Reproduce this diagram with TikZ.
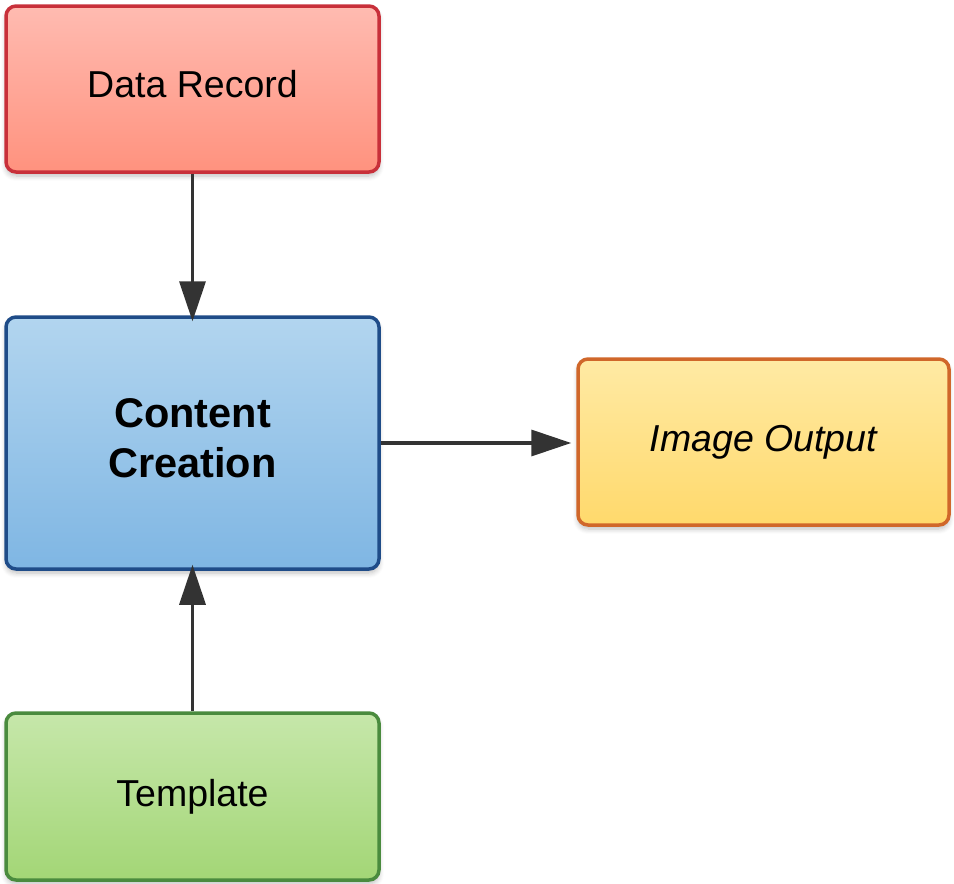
\documentclass[tikz,border=0pt]{standalone}
\usepackage{fontspec}
\setmainfont{Liberation Sans}
\usetikzlibrary{arrows.meta,shadows.blur}

\definecolor{redline}{HTML}{C8303A}
\definecolor{redtop}{HTML}{FFBBB1}
\definecolor{redbot}{HTML}{FF927E}
\definecolor{blueline}{HTML}{1F4C88}
\definecolor{bluetop}{HTML}{B2D5EF}
\definecolor{bluebot}{HTML}{7FB6E3}
\definecolor{orangeline}{HTML}{D0672A}
\definecolor{orangetop}{HTML}{FFEAA4}
\definecolor{orangebot}{HTML}{FFD96C}
\definecolor{greenline}{HTML}{4A8B3E}
\definecolor{greentop}{HTML}{C6E7AA}
\definecolor{greenbot}{HTML}{A3D676}
\definecolor{arrowgray}{HTML}{333333}

\tikzset{
  box/.style={rectangle, rounded corners=10pt, line width=3.5pt,
    minimum width=#1, align=center, inner sep=0pt, font=\fontsize{37.5}{50}\selectfont,
    blur shadow={shadow xshift=0pt, shadow yshift=-4pt, shadow blur steps=6,
      shadow blur radius=5pt, shadow opacity=25}},
  redbox/.style={box=373pt, draw=redline, top color=redtop, bottom color=redbot,
    text depth=10pt},
  bluebox/.style={box=373pt, draw=blueline, top color=bluetop, bottom color=bluebot,
    font=\fontsize{41.5}{50}\selectfont\bfseries},
  orangebox/.style={box=371pt, draw=orangeline, top color=orangetop, bottom color=orangebot},
  greenbox/.style={box=373pt, draw=greenline, top color=greentop, bottom color=greenbot},
  flow/.style={draw=arrowgray, line width=3.5pt,
    -{Triangle[length=40pt, width=26pt]}}
}

\begin{document}
\begin{tikzpicture}[x=1pt, y=-1pt]
  \useasboundingbox (0,0) rectangle (954,884);

  \node[redbox, minimum height=166pt] (rec) at (192.5,89) {Data Record};
  \node[bluebox, minimum height=252pt] (cc) at (192.5,443)
    {Content\\ Creation\\[-40pt]\mbox{}};
  \node[orangebox, minimum height=166pt] (out) at (763.5,442) {\itshape Image Output};
  \node[greenbox, minimum height=167pt] (tpl) at (192.5,796.5) {Template};

  \draw[flow] (rec.south) -- ([yshift=-6pt]cc.north);
  \draw[flow] (tpl.north) -- ([yshift=6pt]cc.south);
  \draw[flow] (cc.east |- 0,443) -- ([xshift=-5pt]out.west |- 0,443);
\end{tikzpicture}
\end{document}
